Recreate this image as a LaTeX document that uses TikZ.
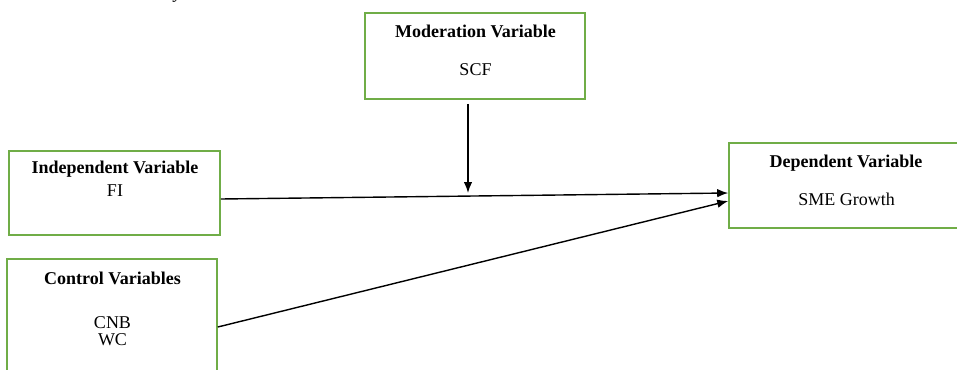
\documentclass[tikz,border=0pt]{standalone}
\usepackage{fontspec}
\setmainfont{Liberation Serif}
\usetikzlibrary{arrows.meta}
\definecolor{boxgreen}{RGB}{112,173,71}
\tikzset{
  varbox/.style={draw=boxgreen, line width=1.6pt, fill=none, inner sep=0pt},
  txt/.style={inner sep=0pt, font=\fontsize{18}{20}\selectfont},
  ttl/.style={txt, font=\fontsize{18}{20}\selectfont\bfseries},
  arr/.style={line width=1.4pt, -{Latex[length=11pt,width=8.5pt]}}
}
\begin{document}
\begin{tikzpicture}[x=1pt,y=-1pt]
\useasboundingbox (0,0) rectangle (957,369);
% fragment of caption cut off at top
\node[txt, anchor=base] (capfrag) at (178,-1) {\textit{y}};
% boxes
\node[varbox, minimum width=220pt, minimum height=86pt] (mod) at (475,56) {};
\node[varbox, minimum width=211pt, minimum height=84pt] (ind) at (114.5,193) {};
\node[varbox, minimum width=210pt, minimum height=131pt] (ctl) at (112,324.5) {};
\node[varbox, minimum width=236pt, minimum height=85pt] (dep) at (847,185.5) {};
% texts
\node[ttl] (modt) at (475.5,31) {Moderation Variable};
\node[txt] (mods) at (475.5,70) {SCF};
\node[ttl] (indt) at (115,169) {Independent Variable};
\node[txt] (inds) at (115,191) {FI};
\node[ttl] (ctlt) at (112.5,278) {Control Variables};
\node[txt] (ctl1) at (112.5,323) {CNB};
\node[txt] (ctl2) at (112.5,340) {WC};
\node[ttl] (dept) at (846,163) {Dependent Variable};
\node[txt] (deps) at (846.5,199) {SME Growth};
% connectors
\coordinate (modtip) at (468,193);
\draw[arr, shorten <=4pt] (mod.south -| modtip) -- (modtip);
\draw[arr] ([yshift=-6pt]ind.east) -- ([yshift=-7.5pt]dep.west);
\draw[arr] ([yshift=-2.5pt]ctl.east) -- ([yshift=-15.5pt]dep.west);
\end{tikzpicture}
\end{document}
